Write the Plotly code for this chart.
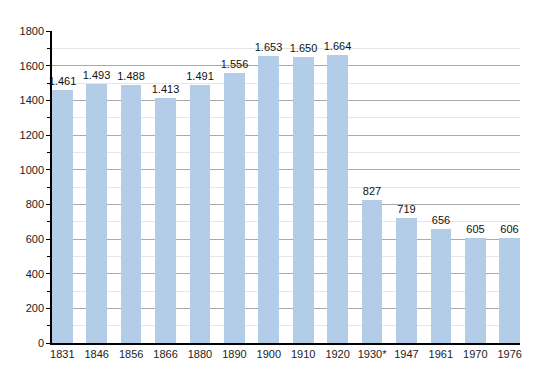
import plotly.graph_objects as go

years = ["1831", "1846", "1856", "1866", "1880", "1890", "1900", "1910", "1920",
         "1930*", "1947", "1961", "1970", "1976"]
population = [1461, 1493, 1488, 1413, 1491, 1556, 1653, 1650, 1664,
              827, 719, 656, 605, 606]
value_labels = ["1.461", "1.493", "1.488", "1.413", "1.491", "1.556", "1.653",
                "1.650", "1.664", "827", "719", "656", "605", "606"]
y_ticks = [0, 200, 400, 600, 800, 1000, 1200, 1400, 1600, 1800]

fig = go.Figure()
fig.add_trace(go.Bar(
    x=list(range(len(years))), y=population,
    width=0.6,
    marker=dict(color="#b3cde8", line=dict(width=0)),
    text=value_labels, textposition="outside", cliponaxis=False,
    constraintext="none",
    textfont=dict(family="Liberation Sans, Arial, sans-serif", size=11, color="#111"),
))

# page body has an 8px default margin, so the figure is sized to fit the window
fig.update_layout(
    width=542, height=365,
    margin=dict(l=42, r=30, t=23, b=30),
    plot_bgcolor="white", paper_bgcolor="white",
    showlegend=False,
    font=dict(family="Liberation Sans, Arial, sans-serif", size=11, color="#222"),
    bargap=0,
)
fig.update_xaxes(
    range=[-0.3, 13.3],
    tickmode="array", tickvals=list(range(len(years))), ticktext=years,
    showgrid=False, showline=True, linecolor="black", linewidth=1.5,
    ticks="", tickfont=dict(size=11),
)
fig.update_yaxes(
    range=[0, 1800],
    tickmode="array", tickvals=y_ticks,
    showgrid=True, gridcolor="#aaaaaa", gridwidth=1,
    showline=True, linecolor="black", linewidth=1.5,
    ticks="outside", ticklen=4, tickcolor="black",
    minor=dict(dtick=100, showgrid=True, gridcolor="#e6e6e6", ticks="outside",
               ticklen=3, tickcolor="black"),
    zeroline=False, tickfont=dict(size=11),
)

fig.write_html("out.html")
